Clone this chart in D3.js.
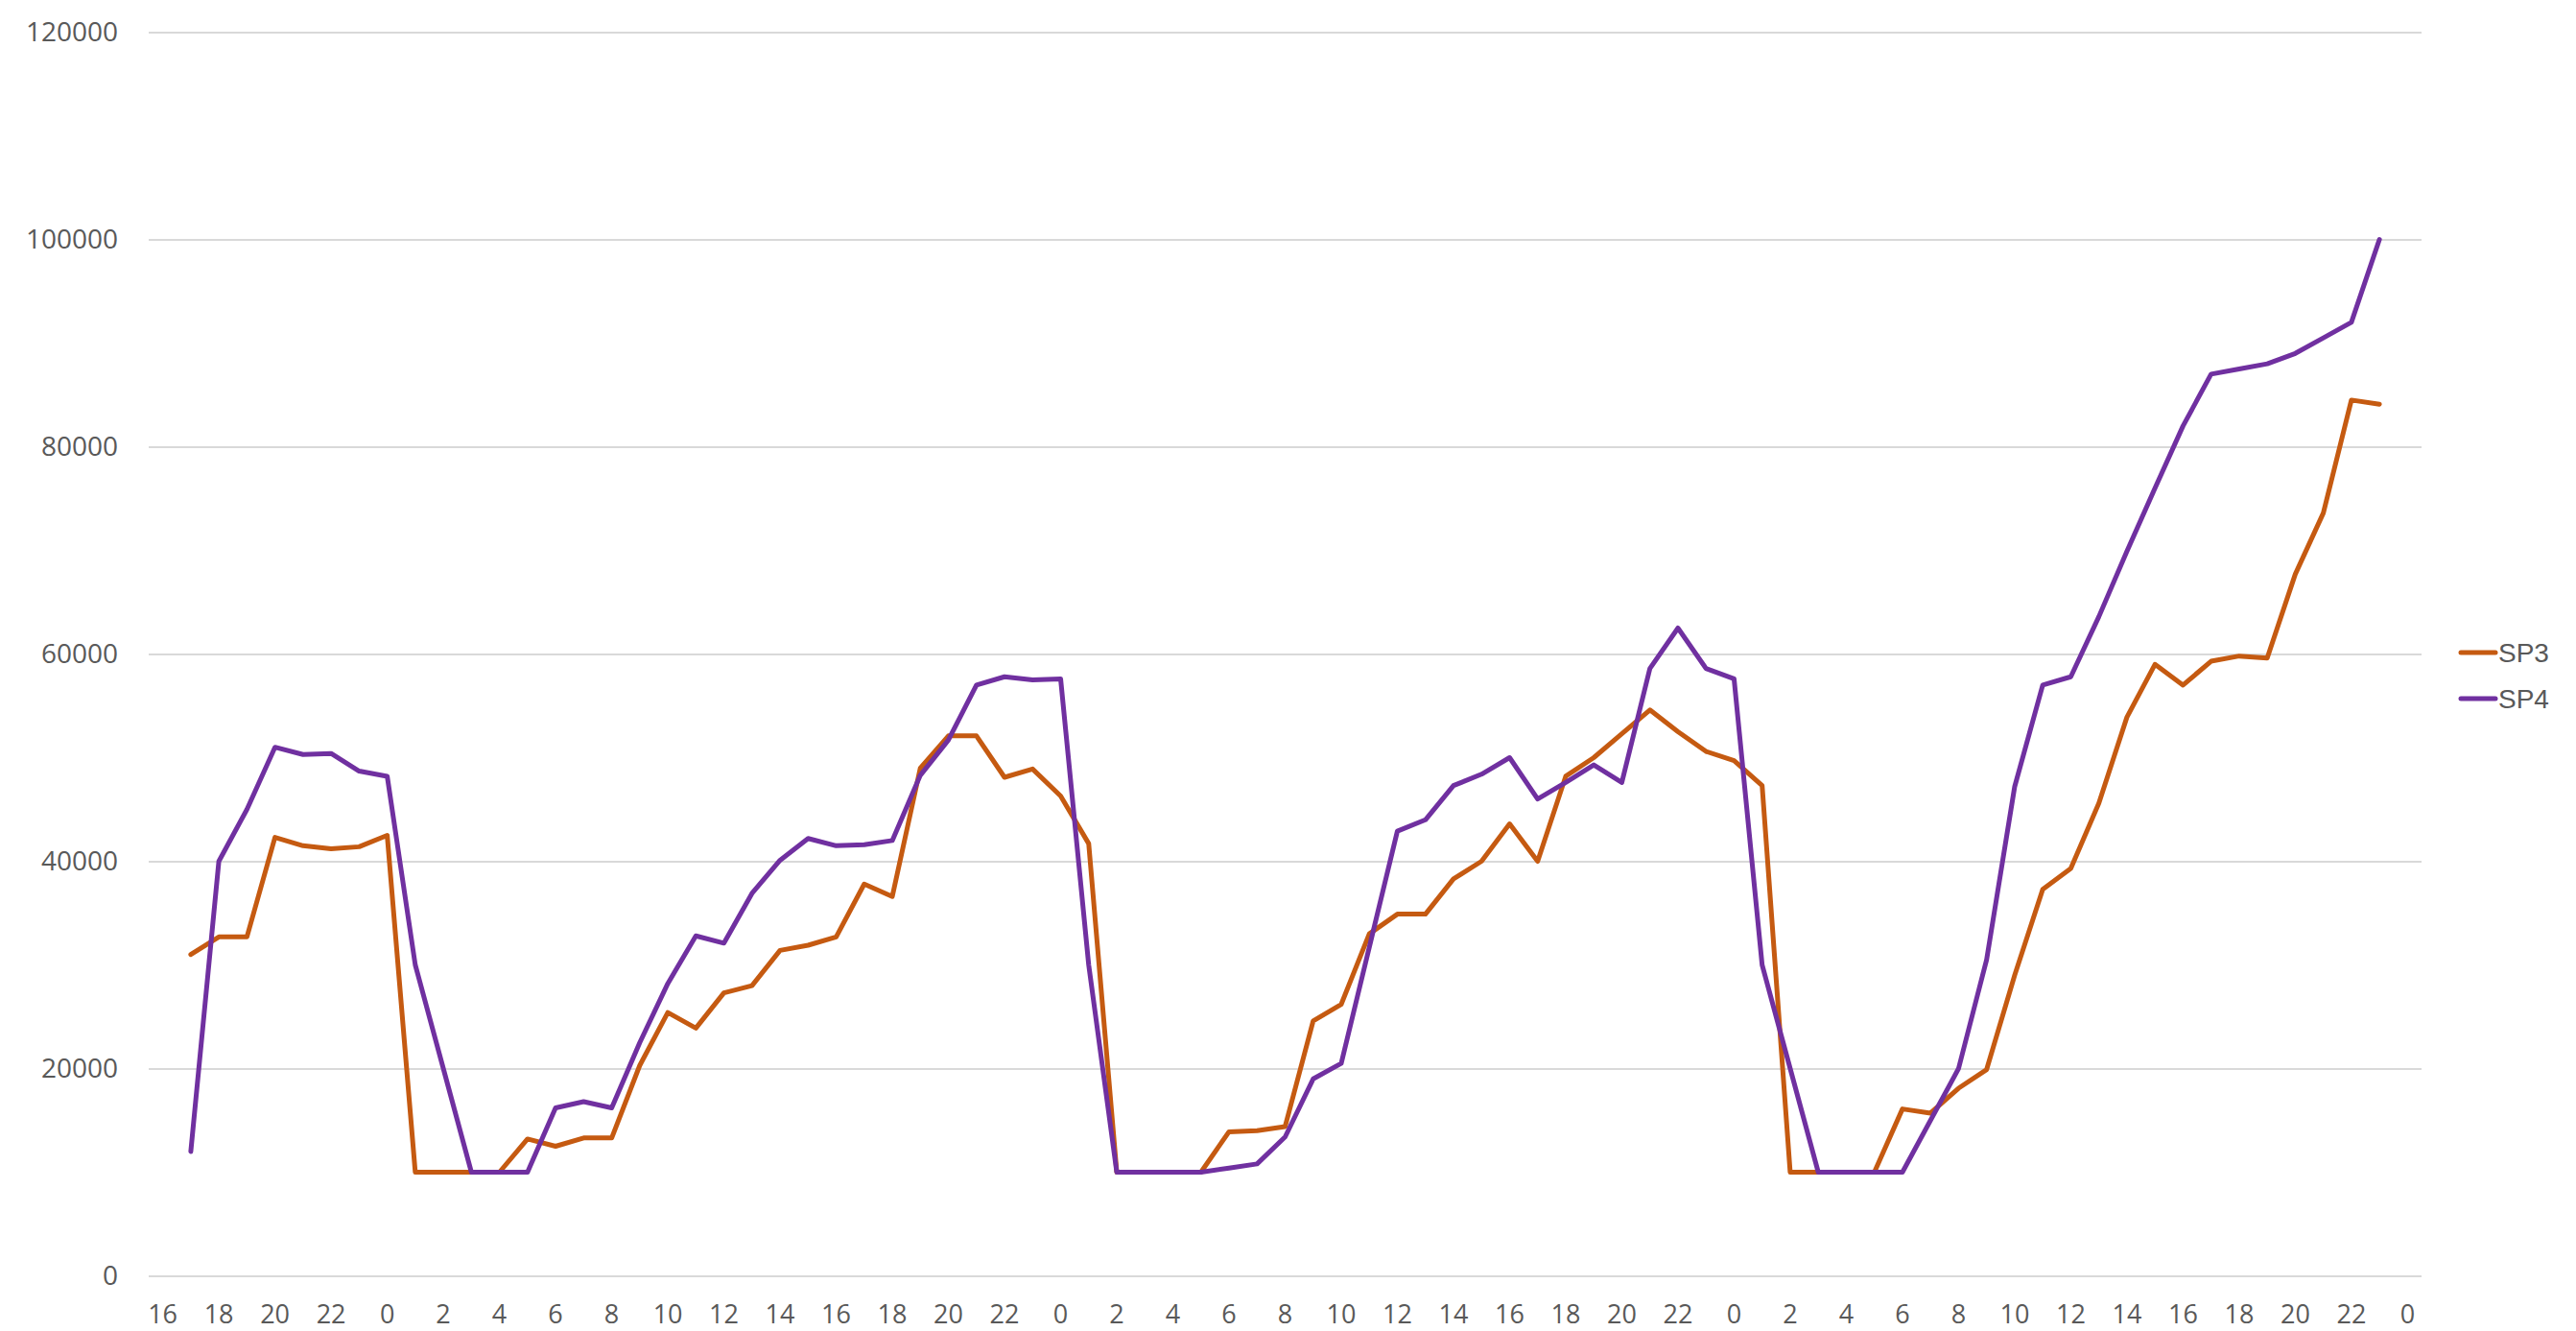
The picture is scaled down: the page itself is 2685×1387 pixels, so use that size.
<!DOCTYPE html>
<html>
<head>
<meta charset="utf-8">
<script src="https://cdn.jsdelivr.net/npm/d3@7"></script>
<style>
  html, body { margin: 0; padding: 0; background: #ffffff; }
  svg { display: block; }
</style>
</head>
<body>
<svg id="chart" width="2685" height="1387"></svg>
<script>
// Hour categories (one per hour; first and last carry no data)
const categories = [16,17,18,19,20,21,22,23,0,1,2,3,4,5,6,7,8,9,10,11,12,13,14,15,16,17,18,19,20,21,22,23,
  0,1,2,3,4,5,6,7,8,9,10,11,12,13,14,15,16,17,18,19,20,21,22,23,
  0,1,2,3,4,5,6,7,8,9,10,11,12,13,14,15,16,17,18,19,20,21,22,23,0];

const sp3 = [null,
  31000,32700,32700,42300,41500,41200,41400,42500,10000,10000,10000,10000,13200,12500,13300,13300,
  20300,25400,23900,27300,28000,31400,31900,32700,37800,36600,49000,52100,52100,48100,48900,46300,
  41700,10000,10000,10000,10000,13900,14000,14400,24600,26200,33000,34900,34900,38300,40000,43600,
  40000,48200,50000,52300,54600,52500,50600,49700,47300,10000,10000,10000,10000,16100,15700,18100,
  19900,29000,37300,39300,45600,53900,59000,57000,59300,59800,59600,67700,73600,84500,84100,
  null];

const sp4 = [null,
  12000,40000,45000,51000,50300,50400,48700,48200,30000,20000,10000,10000,10000,16200,16800,16200,
  22500,28200,32800,32100,36900,40100,42200,41500,41600,42000,48300,51700,57000,57800,57500,57600,
  30000,10000,10000,10000,10000,10400,10800,13400,19000,20500,31700,42900,44000,47300,48400,50000,
  46000,47600,49300,47600,58600,62500,58600,57600,30000,20000,10000,10000,10000,10000,15000,20000,
  30500,47200,57000,57800,63600,69900,76000,82000,87000,87500,88000,89000,90500,92000,100000,
  null];

const seriesNames = ["SP3", "SP4"];
const seriesColors = ["#C55A11", "#7030A0"];
const yTicks = [0, 20000, 40000, 60000, 80000, 100000, 120000];

const svg = d3.select("#chart");
const plotLeft = 155, plotRight = 2524, plotTop = 33.5, plotBottom = 1329.5;

const idx = categories.map((d, i) => i);
const x = d3.scaleBand().domain(idx).range([plotLeft, plotRight]).padding(0);
const xc = i => x(i) + x.bandwidth() / 2;
const y = d3.scaleLinear().domain([0, 120000]).range([plotBottom, plotTop]);

// Y axis with gridlines
const yAxis = svg.append("g")
  .attr("transform", `translate(${plotLeft},0)`)
  .call(d3.axisLeft(y).tickValues(yTicks).tickSizeInner(-(plotRight - plotLeft)).tickSizeOuter(0).tickPadding(32).tickFormat(d3.format("d")));
yAxis.select(".domain").remove();
yAxis.selectAll(".tick line").attr("stroke", "#d9d9d9").attr("stroke-width", 2);
yAxis.selectAll(".tick text")
  .attr("fill", "#595959")
  .style("font-family", "'Open Sans', sans-serif")
  .style("font-size", "28px");

// X axis labels (every 2 hours)
const xAxis = svg.append("g")
  .attr("transform", `translate(0,${plotBottom})`)
  .call(d3.axisBottom(x).tickValues(idx.filter(i => i % 2 === 0)).tickSize(0).tickFormat(i => categories[i]));
xAxis.select(".domain").remove();
xAxis.selectAll(".tick text")
  .attr("y", 40)
  .attr("dy", "0.35em")
  .attr("fill", "#595959")
  .style("font-family", "'Open Sans', sans-serif")
  .style("font-size", "27px");

// Lines
const line = d3.line()
  .defined(d => d != null)
  .x((d, i) => xc(i))
  .y(d => y(d));

[sp3, sp4].forEach((s, k) => {
  svg.append("path")
    .datum(s)
    .attr("fill", "none")
    .attr("stroke", seriesColors[k])
    .attr("stroke-width", 5)
    .attr("stroke-linejoin", "round")
    .attr("stroke-linecap", "round")
    .attr("d", line);
});

// Legend
const legY = [680, 728];
seriesNames.forEach((name, k) => {
  const g = svg.append("g");
  g.append("line")
    .attr("x1", 2565).attr("x2", 2601)
    .attr("y1", legY[k]).attr("y2", legY[k])
    .attr("stroke", seriesColors[k])
    .attr("stroke-width", 5)
    .attr("stroke-linecap", "round");
  g.append("text")
    .attr("x", 2604).attr("y", legY[k])
    .attr("dy", "0.35em")
    .attr("fill", "#595959")
    .style("font-family", "'Liberation Sans', Arial, sans-serif")
    .style("font-size", "28px")
    .text(name);
});
</script>
</body>
</html>
